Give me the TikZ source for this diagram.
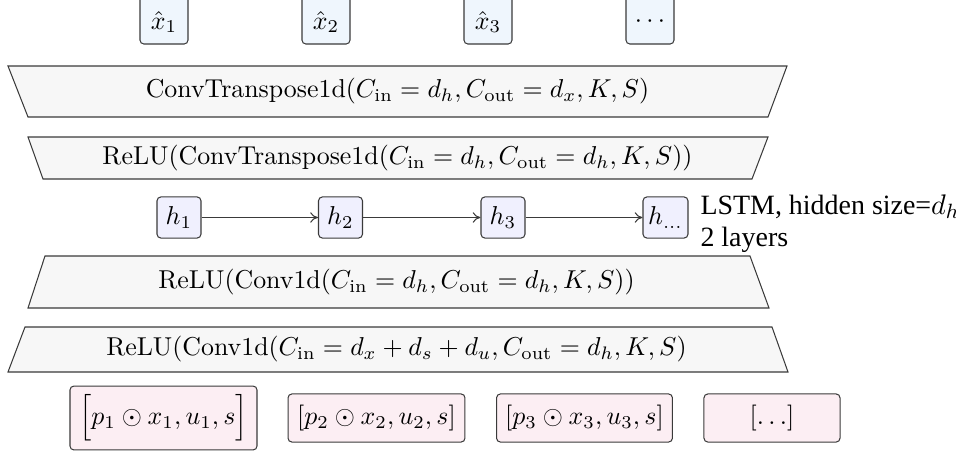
\documentclass[tikz,border=0pt]{standalone}
\usepackage{fontspec}
\newfontfamily\timesfont{Liberation Serif}
\usetikzlibrary{arrows.meta}
\definecolor{topfill}{HTML}{EFF6FD}
\definecolor{hfill}{HTML}{F0F0FE}
\definecolor{infill}{HTML}{FCEEF3}
\definecolor{layfill}{HTML}{F7F7F7}
\definecolor{edge}{HTML}{3A3A3A}
\begin{document}
\begin{tikzpicture}[x=0.3866pt,y=-0.3866pt,
  outbox/.style={draw=edge,fill=topfill,rounded corners=1.5pt,thin},
  hbox/.style={draw=edge,fill=hfill,rounded corners=1.5pt,thin,inner sep=2pt,minimum width=17pt,minimum height=15.9pt},
  inbox/.style={draw=edge,fill=infill,rounded corners=1.5pt,thin,inner sep=2pt,minimum height=18.6pt},
  layer/.style={draw=edge,fill=layfill,thin},
  lbl/.style={inner sep=0pt},
  link/.style={-{To[length=3pt,width=4pt]},edge,thin}]
\useasboundingbox (0,0) rectangle (956,454);
% output boxes
\foreach \cx/\t/\n in {164/\hat{x}_1/o1,326/\hat{x}_2/o2,488/\hat{x}_3/o3,650/\cdots/o4}{
  \draw[outbox] (\cx-24,-4) rectangle (\cx+24,44);
  \node[lbl] (\n) at (\cx,22) {$\t$};
}
% layers
\draw[layer] (8,66) -- (787,66) -- (768,117) -- (28,117) -- cycle;
\node[lbl] (l1) at (397.5,91.5) {ConvTranspose1d$(C_{\mathrm{in}}=d_h, C_{\mathrm{out}}=d_x, K, S)$};
\draw[layer] (28,137) -- (768,137) -- (752,179) -- (43,179) -- cycle;
\node[lbl] (l2) at (397.5,158) {ReLU(ConvTranspose1d$(C_{\mathrm{in}}=d_h, C_{\mathrm{out}}=d_h, K, S)$)};
\draw[layer] (45,256) -- (750,256) -- (769,308) -- (28,308) -- cycle;
\node[lbl] (l3) at (396.5,282) {ReLU(Conv1d$(C_{\mathrm{in}}=d_h, C_{\mathrm{out}}=d_h, K, S)$)};
\draw[layer] (25,327) -- (772,327) -- (788,372) -- (8,372) -- cycle;
\node[lbl] (l4) at (396.5,349.5) {ReLU(Conv1d$(C_{\mathrm{in}}=d_x+d_s+d_u, C_{\mathrm{out}}=d_h, K, S)$};
% LSTM
\node[hbox] (h1) at (179,217.5) {$h_1$};
\node[hbox] (h2) at (340.5,217.5) {$h_2$};
\node[hbox] (h3) at (503,217.5) {$h_3$};
\node[hbox] (h4) at (665.5,217.5) {$h_{\dots}$};
\draw[link] (h1) -- (h2);
\draw[link] (h2) -- (h3);
\draw[link] (h3) -- (h4);
\node[lbl,anchor=north west,align=left,font=\timesfont\fontsize{10.8pt}{12.6pt}\selectfont] (lstm) at (700,194) {LSTM, hidden size=$d_h$\\2 layers};
% inputs
\node[inbox,minimum width=72.3pt,minimum height=24.7pt] (i1) at (163.5,418) {$\Bigl[p_1\odot x_1, u_1, s\Bigr]$};
\node[inbox,minimum width=68.4pt] (i2) at (376.5,418) {$[p_2\odot x_2, u_2, s]$};
\node[inbox,minimum width=68pt] (i3) at (584.5,418) {$[p_3\odot x_3, u_3, s]$};
\node[inbox,minimum width=52.6pt] (i4) at (772,418) {$[\dots]$};
\end{tikzpicture}
\end{document}
